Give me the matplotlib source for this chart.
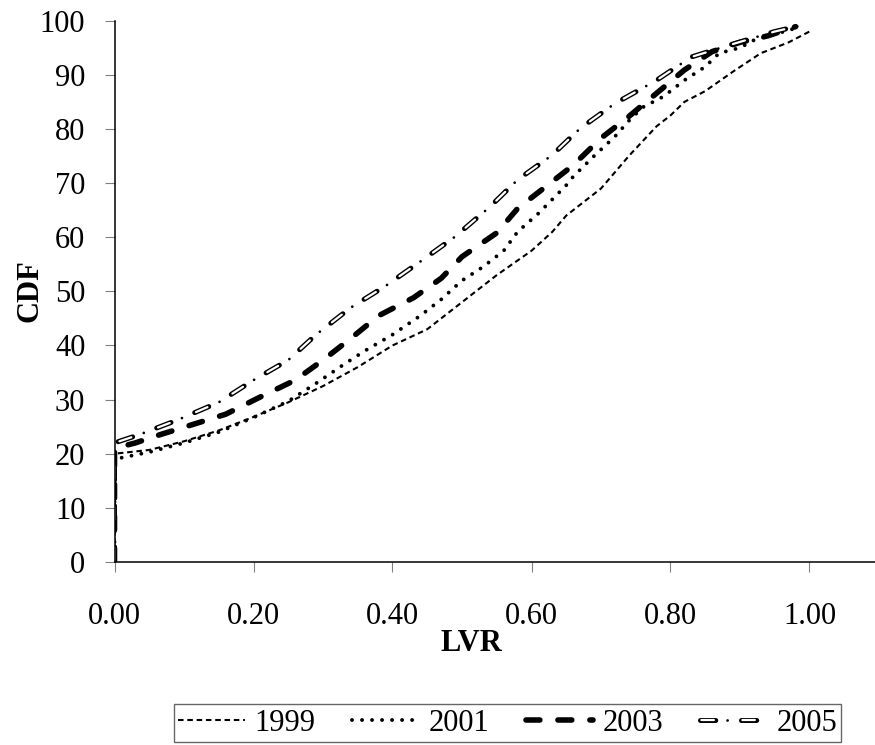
import matplotlib
matplotlib.use("Agg")
import matplotlib.pyplot as plt

plt.rcParams['font.family'] = ['Liberation Serif', 'DejaVu Serif']
plt.rcParams['lines.scale_dashes'] = False

# CDF of LVR by year
x1999 = [0, 0, 0.05, 0.10, 0.15, 0.20, 0.25, 0.30, 0.35, 0.40, 0.45, 0.50, 0.55, 0.60, 0.63,
         0.65, 0.67, 0.70, 0.74, 0.78, 0.80, 0.82, 0.85, 0.89, 0.93, 0.97, 1.00]
y1999 = [0, 20, 20.7, 22.3, 24.3, 26.8, 29.5, 32.5, 36, 40, 43, 48, 53, 57.5, 61,
         64, 66, 69, 75, 80.5, 82.5, 85, 87, 90.6, 94, 96, 98]

x2001 = [0, 0, 0.05, 0.10, 0.15, 0.20, 0.25, 0.29, 0.33, 0.36, 0.40, 0.44, 0.47, 0.50, 0.53,
         0.56, 0.58, 0.61, 0.63, 0.65, 0.66, 0.69, 0.72, 0.74, 0.76, 0.79, 0.82, 0.85, 0.87,
         0.90, 0.92, 0.95, 0.985]
y2001 = [0, 19, 20.3, 22, 24, 26.7, 29.7, 33, 36.5, 39, 42, 45.5, 48.5, 52, 54.5,
         57.5, 61, 64.4, 67, 69.6, 71.2, 75, 78.6, 81.5, 84, 86, 89, 91.5, 94,
         95, 96.4, 97.5, 98.8]

x2003 = [0, 0, 0.03, 0.06, 0.11, 0.16, 0.21, 0.26, 0.30, 0.34, 0.38, 0.43, 0.47, 0.50, 0.55,
         0.58, 0.62, 0.66, 0.70, 0.74, 0.78, 0.82, 0.86, 0.90, 0.94, 0.98]
y2003 = [0, 21, 22, 23.3, 25.3, 27.3, 30.5, 33.6, 37.3, 41.3, 45.5, 48.8, 52.4, 56.4, 60.8,
         65.3, 69.3, 73.3, 78.3, 82.3, 86.6, 90.9, 94.3, 96, 97.2, 98.9]

x2005 = [0, 0, 0.035, 0.09, 0.15, 0.20, 0.25, 0.29, 0.34, 0.39, 0.44, 0.49, 0.54, 0.58, 0.63,
         0.67, 0.72, 0.78, 0.83, 0.89, 0.95, 0.99]
y2005 = [0, 22, 23.5, 26.2, 29.5, 33.6, 37.3, 42, 47, 51, 55.5, 60.1, 65.6, 70.6, 75.2,
         80.1, 84.7, 89, 93.3, 95.7, 98, 99.2]

xticks = [0, 0.2, 0.4, 0.6, 0.8, 1.0]
yticks = list(range(0, 101, 10))

fig = plt.figure(figsize=(8.75, 7.45), dpi=100)
ax = fig.add_axes([114.5 / 875, 1 - 562 / 745, 764.5 / 875, 541.3 / 745])

l99, = ax.plot(x1999, y1999, color='black', lw=1.5, linestyle=(0, (4, 2.7)),
               dash_capstyle='butt')
l01, = ax.plot(x2001, y2001, color='black', lw=2.8, linestyle=(0, (0.01, 7.2)),
               dash_capstyle='round')
l03, = ax.plot(x2003, y2003, color='black', lw=4, linestyle=(0, (10, 13)),
               dash_capstyle='round')
# 2005: hollow dashes with a dot between them
per = 29.5
a, = ax.plot(x2005, y2005, color='black', lw=3.6, linestyle=(0, (11, per - 11)),
             dash_capstyle='round')
b, = ax.plot(x2005, y2005, color='white', lw=1.6, linestyle=(per - 1, (9, per - 9)),
             dash_capstyle='round')
c, = ax.plot(x2005, y2005, color='black', lw=2.0, linestyle=(per - 19.5, (0.01, per - 0.01)),
             dash_capstyle='round')

ax.set_xlim(0, 1.1)
ax.set_ylim(0, 100)
ax.set_xticks(xticks)
ax.set_xticklabels(['%.2f' % v for v in xticks])
ax.set_yticks(yticks)
ax.tick_params(axis='both', labelsize=22, length=7, width=0.8, color='#808080',
               direction='out')
ax.tick_params(axis='x', pad=22)
ax.tick_params(axis='y', pad=14)
ax.spines['top'].set_visible(False)
ax.spines['right'].set_visible(False)
ax.spines['left'].set_linewidth(1.1)
ax.spines['bottom'].set_linewidth(1.1)

ax.set_xlabel('LVR', fontsize=22, fontweight='bold')
ax.xaxis.set_label_coords(0.467, -0.15)
ax.xaxis.label.set_va('center')
ax.set_ylabel('CDF', fontsize=22, fontweight='bold')
ax.yaxis.set_label_coords(-0.110, 0.502)
ax.yaxis.label.set_va('center')

leg = fig.legend([l99, l01, l03, (a, b, c)], ['1999', '2001', '2003', '2005'],
                 loc='upper center', bbox_to_anchor=(0.58, 1 - 704 / 745), ncol=4,
                 fontsize=22, frameon=True, fancybox=False, handlelength=2.2,
                 handletextpad=0.3, columnspacing=1.2, borderpad=0.15,
                 borderaxespad=0)
leg.get_frame().set_edgecolor('#404040')
leg.get_frame().set_linewidth(1.0)

fig.savefig('out.png', dpi=100)
